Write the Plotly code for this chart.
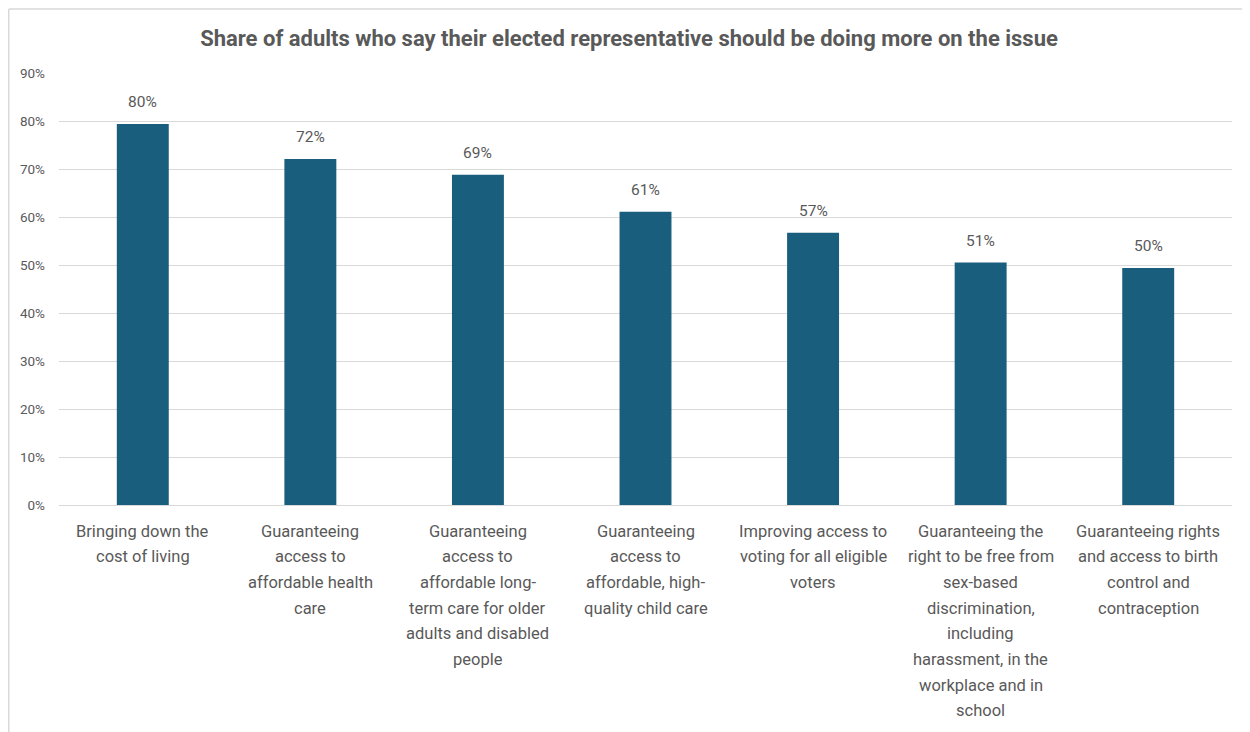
import plotly.graph_objects as go

categories = [
    "Bringing down the<br>cost of living",
    "Guaranteeing<br>access to<br>affordable health<br>care",
    "Guaranteeing<br>access to<br>affordable long-<br>term care for older<br>adults and disabled<br>people",
    "Guaranteeing<br>access to<br>affordable, high-<br>quality child care",
    "Improving access to<br>voting for all eligible<br>voters",
    "Guaranteeing the<br>right to be free from<br>sex-based<br>discrimination,<br>including<br>harassment, in the<br>workplace and in<br>school",
    "Guaranteeing rights<br>and access to birth<br>control and<br>contraception",
]
values = [79.4, 72.1, 68.8, 61.1, 56.7, 50.5, 49.4]
labels = ["80%", "72%", "69%", "61%", "57%", "51%", "50%"]
y_ticks = [0, 10, 20, 30, 40, 50, 60, 70, 80, 90]
y_ticktext = [f"{v}%" for v in y_ticks]

grey = "#595959"
font = "Roboto"
W, H = 1242, 724
L, T, PW, PH = 51, 65, 1173, 432

xs = list(range(len(categories)))

fig = go.Figure(go.Bar(
    x=xs,
    y=values,
    marker=dict(color="#1a5e7e", line=dict(width=0)),
    hoverinfo="skip",
))

annotations = []
# data labels
for x, v, lab in zip(xs, values, labels):
    annotations.append(dict(
        x=x, y=v, xref="x", yref="y", text=lab, showarrow=False,
        yanchor="bottom", yshift=11,
        font=dict(size=15.5, color=grey, family=font),
    ))
# category labels with custom line spacing
for x, cat in zip(xs, categories):
    for j, line in enumerate(cat.split("<br>")):
        annotations.append(dict(
            x=x, y=0, xref="x", yref="y", text=line, showarrow=False,
            yanchor="middle", yshift=-(26 + j * 25.7),
            font=dict(size=16.5, color=grey, family=font),
        ))

fig.update_layout(
    width=W, height=H,
    margin=dict(l=L, r=W - L - PW, t=T, b=H - T - PH),
    paper_bgcolor="white", plot_bgcolor="white",
    bargap=0.69,
    showlegend=False,
    title=dict(
        text="<b>Share of adults who say their elected representative should be doing more on the issue</b>",
        x=0.5, xanchor="center", y=1 - 30 / H, yanchor="middle",
        font=dict(size=22, color=grey, family=font),
    ),
    xaxis=dict(
        tickmode="array", tickvals=xs, showticklabels=False,
        showgrid=False, zeroline=False, showline=False, ticks="",
        range=[-0.5, len(categories) - 0.5],
    ),
    yaxis=dict(
        range=[0, 90], tickmode="array", tickvals=y_ticks, ticktext=y_ticktext,
        tickfont=dict(size=13.5, color=grey, family=font),
        showgrid=True, gridcolor="#d9d9d9", gridwidth=1,
        zeroline=True, zerolinecolor="#d9d9d9", zerolinewidth=1,
        showline=False, ticks="", ticklabelstandoff=13,
    ),
    annotations=annotations,
    shapes=[
        dict(type="line", xref="paper", yref="paper",
             x0=(0.75 - L) / PW, x1=(W + 20 - L) / PW,
             y0=(T + PH - 1) / PH, y1=(T + PH - 1) / PH,
             line=dict(color="#d9d9d9", width=1.5)),
        dict(type="line", xref="paper", yref="paper",
             x0=(0.75 - L) / PW, x1=(0.75 - L) / PW,
             y0=(T + PH - 1) / PH, y1=(T + PH - H - 20) / PH,
             line=dict(color="#d9d9d9", width=1.5)),
    ],
)

fig.write_html("out.html")
